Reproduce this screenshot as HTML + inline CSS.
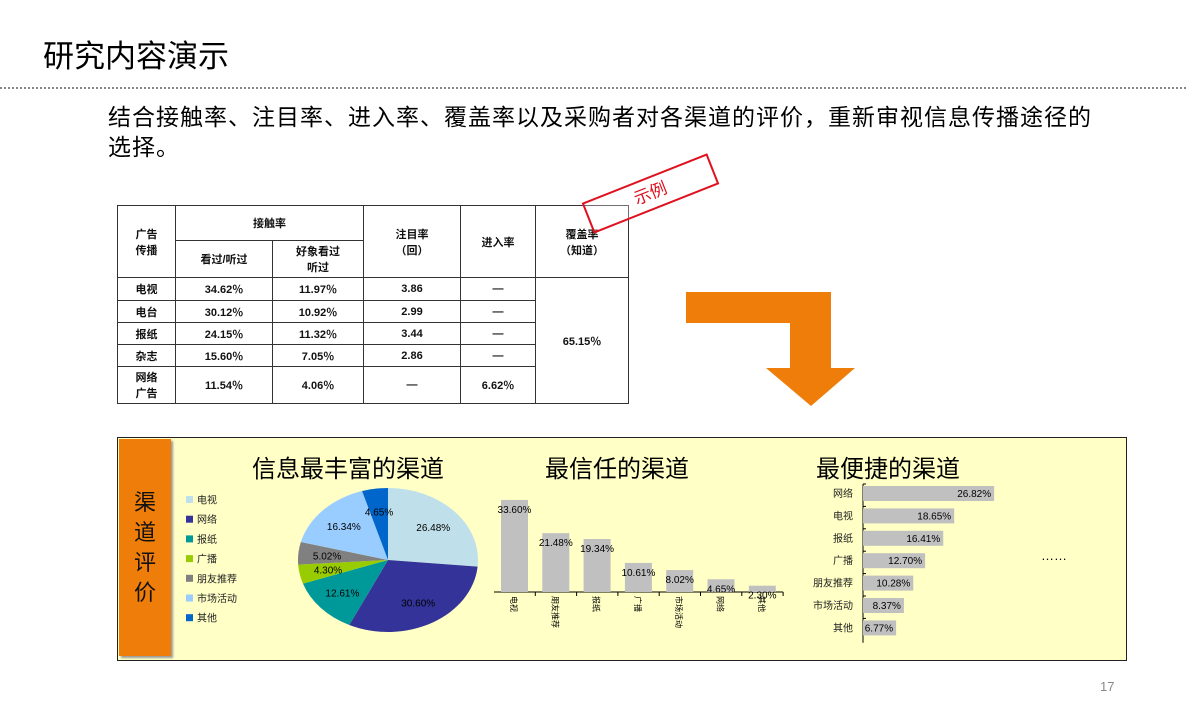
<!DOCTYPE html>
<html><head><meta charset="utf-8">
<style>
body{margin:0;width:1186px;height:720px;background:#fff;position:relative;overflow:hidden;font-family:"Liberation Sans","Noto Sans CJK SC",sans-serif}
.abs{position:absolute}
table{border-collapse:collapse;position:absolute;left:117px;top:205px;font-size:11px;color:#111}
td{border:1.5px solid #333;text-align:center;padding:0;font-weight:bold}
</style></head><body>
<div class="abs" style="left:43px;top:31px;font-size:31px;color:#000">研究内容演示</div>
<div class="abs" style="left:0;top:87px;width:1186px;border-top:2px dotted #888"></div>
<div class="abs" style="left:108px;top:102px;font-size:23px;line-height:30px;color:#000;letter-spacing:1px;white-space:nowrap">结合接触率、注目率、进入率、覆盖率以及采购者对各渠道的评价，重新审视信息传播途径的<br>选择。</div>

<table>
<tr style="height:35px"><td rowspan="2" style="width:57px">广告<br>传播</td><td colspan="2">接触率</td><td rowspan="2" style="width:96px">注目率<br>（回）</td><td rowspan="2" style="width:74px">进入率</td><td rowspan="2" style="width:92px">覆盖率<br>（知道）</td></tr>
<tr style="height:37px"><td style="width:96px">看过/听过</td><td style="width:90px">好象看过<br>听过</td></tr>
<tr style="height:23px"><td>电视</td><td>34.62％</td><td>11.97％</td><td>3.86</td><td>—</td><td rowspan="5">65.15％</td></tr>
<tr style="height:22px"><td>电台</td><td>30.12％</td><td>10.92％</td><td>2.99</td><td>—</td></tr>
<tr style="height:22px"><td>报纸</td><td>24.15％</td><td>11.32％</td><td>3.44</td><td>—</td></tr>
<tr style="height:22px"><td>杂志</td><td>15.60％</td><td>7.05％</td><td>2.86</td><td>—</td></tr>
<tr style="height:37px"><td>网络<br>广告</td><td>11.54％</td><td>4.06％</td><td>—</td><td>6.62％</td></tr>
</table>

<div class="abs" style="left:583px;top:177px;width:131px;height:29px;border:2.5px solid #e0101e;transform:rotate(-21.6deg);color:#e0101e;font-size:17px;text-align:center;line-height:29px;background:rgba(255,255,255,0.3)">示例</div>

<svg class="abs" style="left:0;top:0" width="1186" height="720">
<polygon points="686,292 831,292 831,368 855,368 811,406 766,368 790,368 790,323 686,323" fill="#EE7D0A"/>
</svg>

<div class="abs" style="left:117px;top:437px;width:1008px;height:222px;border:1px solid #222;background:#FFFFC6"></div>
<div class="abs" style="left:119px;top:439px;width:52px;height:217px;background:#EE7D0A;box-shadow:2px 2px 2px #999;color:#111;font-size:22px;line-height:30px;text-align:center;display:flex;align-items:center;justify-content:center"><div>渠<br>道<br>评<br>价</div></div>

<svg class="abs" style="left:0;top:0" width="1186" height="720" id="charts">
<text x="348" y="477" text-anchor="middle" font-size="24">信息最丰富的渠道</text>
<text x="617" y="477" text-anchor="middle" font-size="24">最信任的渠道</text>
<text x="888" y="477" text-anchor="middle" font-size="24">最便捷的渠道</text>
<g id="pie"></g><g id="bars"></g><g id="hbars"></g>
<text x="1041" y="560" font-size="13">……</text>
</svg>
<div class="abs" style="left:1100px;top:679px;font-size:13px;color:#888">17</div>

<script>
const pieCats=["电视","网络","报纸","广播","朋友推荐","市场活动","其他"];
const pieVals=[26.48,30.60,12.61,4.30,5.02,16.34,4.65];
const pieColors=["#BFE0EA","#333399","#009999","#99CC00","#808080","#99CCFF","#0066CC"];
const barCats=["电视","朋友推荐","报纸","广播","市场活动","网络","其他"];
const barVals=[33.60,21.48,19.34,10.61,8.02,4.65,2.30];
const hCats=["网络","电视","报纸","广播","朋友推荐","市场活动","其他"];
const hVals=[26.82,18.65,16.41,12.70,10.28,8.37,6.77];
const NS="http://www.w3.org/2000/svg";
function mk(t,a,p){const e=document.createElementNS(NS,t);for(const k in a)e.setAttribute(k,a[k]);p.appendChild(e);return e;}
const pie=document.getElementById('pie');
const cx=388,cy=560,rx=90,ry=72;
const total=pieVals.reduce((a,b)=>a+b,0);
let ang=-Math.PI/2;
pieVals.forEach((v,i)=>{
 const a2=ang+v/total*2*Math.PI;
 const x1=cx+rx*Math.cos(ang),y1=cy+ry*Math.sin(ang),x2=cx+rx*Math.cos(a2),y2=cy+ry*Math.sin(a2);
 const p=mk('path',{d:`M${cx},${cy}L${x1},${y1}A${rx},${ry} 0 ${a2-ang>Math.PI?1:0} 1 ${x2},${y2}Z`,fill:pieColors[i]},pie);
 
 
 const m=(ang+a2)/2;
 const t=mk('text',{x:cx+rx*0.68*Math.cos(m),y:cy+ry*0.68*Math.sin(m)+4,'text-anchor':'middle','font-size':10},pie);
 t.textContent=v.toFixed(2)+'%';
 
 
 const ly=500+i*19.7;
 const r=mk('rect',{x:186,y:ly-4,width:7,height:7,fill:pieColors[i]},pie);
 
 
 const lt=mk('text',{x:197,y:ly+3.5,'font-size':10,fill:'#222'},pie);
 lt.textContent=pieCats[i];
 
 
 ang=a2;
});
const bars=document.getElementById('bars');
const base=592,sc=2.74,x0=494,step=41.3;
mk('line',{x1:x0,y1:base,x2:x0+step*barCats.length,y2:base,stroke:'#000','stroke-width':1},bars);
barCats.forEach((c,i)=>{
 const h=barVals[i]*sc,bx=x0+step*i+7;
 const r=mk('rect',{x:bx,y:base-h,width:27,height:h,fill:'#C0C0C0'},bars);
 
 
 mk('line',{x1:x0+step*(i+1),y1:base,x2:x0+step*(i+1),y2:base+4,stroke:'#000'},bars);
 const t=mk('text',{x:bx+13.5,y:base-h+13,'text-anchor':'middle','font-size':10},bars);
 t.textContent=barVals[i].toFixed(2)+'%';
 
 
 const xl=mk('text',{x:0,y:0,'font-size':8,transform:`translate(${bx+10},${base+4}) rotate(90)`},bars);
 xl.textContent=c;
 
 
});
const hb=document.getElementById('hbars');
const ax=863,y0=486,hs=22.4,hsc=4.89;
mk('line',{x1:ax,y1:y0-2,x2:ax,y2:y0+hs*hCats.length,stroke:'#000'},hb);
hCats.forEach((c,i)=>{
 const y=y0+hs*i,w=hVals[i]*hsc;
 const r=mk('rect',{x:ax,y:y,width:w,height:15,fill:'#C0C0C0'},hb);
 
 
 mk('line',{x1:ax,y1:y-2,x2:ax+3,y2:y-2,stroke:'#000'},hb);
 const t=mk('text',{x:ax+w-3,y:y+11,'text-anchor':'end','font-size':10},hb);
 t.textContent=hVals[i].toFixed(2)+'%';
 
 
 const l=mk('text',{x:853,y:y+11,'text-anchor':'end','font-size':10,fill:'#222'},hb);
 l.textContent=c;
 
 
});
</script>
</body></html>
